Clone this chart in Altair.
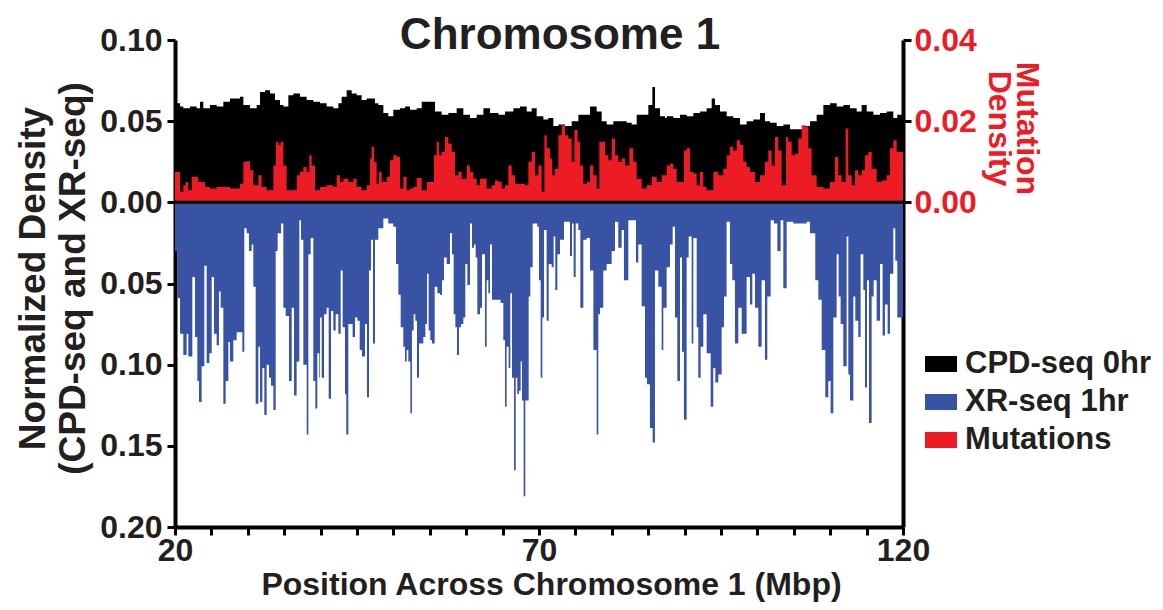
import altair as alt
import pandas as pd

FONT = "Liberation Sans"
TXT = "#231f20"
RED = "#ed1c24"
BLUE = "#3953a4"
BLACK = "#000000"

# ---- CPD-seq 0hr (normalized density, upper half) ----
cpd_pos = [
    20.0, 20.23, 20.69, 21.14, 22.06, 22.98, 23.43, 23.89, 24.81, 25.72,
    26.64, 27.55, 28.47, 28.93, 29.39, 30.30, 31.22, 31.68, 32.36, 33.05,
    33.74, 34.42, 34.88, 35.57, 36.25, 37.17, 38.09, 39.00, 39.92, 40.83,
    41.75, 42.44, 42.89, 43.58, 44.27, 44.95, 45.64, 46.33, 46.79, 47.47,
    47.93, 48.62, 49.30, 49.99, 50.91, 51.59, 52.28, 53.20, 53.89, 54.80,
    55.72, 56.63, 57.55, 58.69, 59.61, 60.52, 61.44, 62.36, 63.27, 64.42,
    65.33, 66.48, 67.39, 68.31, 68.99, 69.68, 70.60, 71.28, 71.97, 72.66,
    73.57, 74.49, 75.41, 76.32, 77.01, 77.92, 78.61, 79.30, 80.21, 81.13,
    82.05, 82.73, 83.42, 84.33, 85.02, 85.57, 85.94, 86.62, 87.31, 87.54,
    88.45, 89.37, 90.28, 91.20, 92.11, 93.03, 93.72, 94.17, 94.86, 95.78,
    96.69, 97.61, 98.52, 99.44, 100.36, 101.04, 101.73, 102.65, 103.56, 104.48,
    105.39, 106.31, 107.22, 108.14, 109.06, 109.97, 110.89, 111.80, 112.72, 113.63,
    114.32, 115.01, 115.93, 116.84, 117.75, 118.67, 119.21, 120.0,
]
cpd_val = [
    0.061, 0.061, 0.059, 0.058, 0.059, 0.058, 0.062, 0.058, 0.060, 0.059,
    0.062, 0.064, 0.064, 0.065, 0.060, 0.058, 0.060, 0.068, 0.069, 0.067,
    0.063, 0.060, 0.059, 0.066, 0.067, 0.065, 0.063, 0.062, 0.061, 0.059,
    0.058, 0.061, 0.065, 0.069, 0.067, 0.066, 0.063, 0.064, 0.064, 0.061,
    0.060, 0.055, 0.053, 0.057, 0.058, 0.059, 0.057, 0.058, 0.062, 0.062,
    0.056, 0.054, 0.055, 0.058, 0.054, 0.052, 0.054, 0.058, 0.055, 0.054,
    0.056, 0.058, 0.059, 0.056, 0.058, 0.053, 0.051, 0.052, 0.047, 0.048,
    0.047, 0.050, 0.054, 0.054, 0.059, 0.056, 0.050, 0.048, 0.050, 0.050,
    0.049, 0.048, 0.054, 0.054, 0.060, 0.071, 0.058, 0.053, 0.052, 0.053,
    0.052, 0.054, 0.053, 0.055, 0.056, 0.058, 0.064, 0.060, 0.056, 0.053,
    0.052, 0.048, 0.050, 0.051, 0.055, 0.050, 0.049, 0.047, 0.048, 0.045,
    0.045, 0.047, 0.050, 0.054, 0.060, 0.061, 0.059, 0.060, 0.058, 0.056,
    0.060, 0.056, 0.054, 0.055, 0.056, 0.052, 0.054, 0.054,
]

# ---- XR-seq 1hr (normalized density, drawn downward) ----
xr_pos = [
    20.0, 20.32, 20.69, 21.14, 21.60, 21.83, 22.38, 22.75, 23.07, 23.30,
    23.66, 24.03, 24.35, 24.72, 25.04, 25.36, 25.72, 26.04, 26.27, 26.64,
    26.96, 27.33, 27.55, 28.01, 28.47, 28.93, 29.25, 29.52, 29.84, 30.16,
    30.53, 30.76, 31.08, 31.45, 31.68, 32.00, 32.27, 32.59, 32.91, 33.19,
    33.51, 33.83, 34.10, 34.56, 34.88, 35.20, 35.66, 36.03, 36.35, 36.71,
    37.08, 37.31, 37.63, 38.09, 38.32, 38.64, 39.00, 39.28, 39.55, 39.82,
    39.92, 40.15, 40.47, 40.83, 41.11, 41.43, 41.75, 42.07, 42.44, 42.76,
    43.03, 43.35, 43.53, 43.81, 44.13, 44.40, 44.73, 45.05, 45.37, 45.69,
    46.10, 46.37, 46.65, 46.92, 47.20, 47.47, 47.93, 48.62, 49.30, 49.99,
    50.36, 50.68, 51.00, 51.36, 51.59, 51.82, 52.05, 52.33, 52.55, 52.78,
    53.01, 53.24, 53.52, 53.84, 54.11, 54.39, 54.62, 54.84, 55.07, 55.30,
    55.67, 56.04, 56.40, 56.68, 56.95, 57.32, 57.77, 58.05, 58.28, 58.51,
    58.74, 59.01, 59.29, 59.61, 59.88, 60.16, 60.52, 60.80, 61.07, 61.30,
    61.53, 61.90, 62.17, 62.58, 62.81, 63.04, 63.27, 63.54, 63.96, 64.41,
    64.73, 65.10, 65.33, 65.55, 65.83, 66.06, 66.29, 66.57, 66.80, 67.02,
    67.25, 67.48, 67.66, 67.89, 68.12, 68.35, 68.58, 68.81, 69.13, 69.50,
    69.77, 70.00, 70.23, 70.46, 70.69, 71.05, 71.33, 71.74, 72.01, 72.24,
    72.52, 72.88, 73.43, 73.89, 74.26, 74.53, 74.76, 75.04, 75.40, 75.68,
    76.09, 76.55, 77.01, 77.47, 77.92, 78.15, 78.38, 78.83, 79.29, 79.98,
    80.44, 80.89, 81.35, 81.67, 82.27, 82.82, 83.32, 83.64, 84.10, 84.56,
    84.83, 85.24, 85.61, 85.93, 86.39, 86.85, 87.08, 87.53, 87.99, 88.36,
    88.68, 89.00, 89.37, 89.64, 89.91, 90.28, 90.56, 90.97, 91.20, 91.66,
    91.88, 92.20, 92.57, 93.03, 93.58, 93.94, 94.22, 94.63, 95.09, 95.41,
    95.77, 96.23, 96.55, 96.92, 97.38, 97.84, 98.52, 98.98, 99.30, 99.67,
    100.13, 100.58, 101.04, 101.36, 101.82, 102.28, 102.74, 103.19, 103.56, 104.02,
    104.93, 105.85, 106.76, 107.22, 107.59, 107.95, 108.37, 108.83, 109.33, 109.74,
    110.06, 110.43, 110.88, 111.16, 111.43, 111.80, 112.26, 112.49, 112.72, 113.18,
    113.45, 113.86, 114.18, 114.55, 114.78, 115.05, 115.33, 115.69, 115.97, 116.38,
    116.84, 117.20, 117.52, 117.89, 118.21, 118.67, 118.94, 119.22, 119.58, 120.0,
]
xr_depth = [
    0.030, 0.059, 0.081, 0.094, 0.081, 0.095, 0.046, 0.083, 0.110, 0.123,
    0.101, 0.039, 0.099, 0.093, 0.046, 0.081, 0.088, 0.055, 0.065, 0.124,
    0.110, 0.086, 0.098, 0.085, 0.080, 0.080, 0.092, 0.016, 0.019, 0.030,
    0.026, 0.052, 0.124, 0.089, 0.123, 0.102, 0.131, 0.100, 0.108, 0.113,
    0.128, 0.030, 0.019, 0.013, 0.065, 0.070, 0.110, 0.065, 0.119, 0.098,
    0.011, 0.023, 0.100, 0.143, 0.032, 0.022, 0.110, 0.127, 0.093, 0.108,
    0.071, 0.108, 0.069, 0.065, 0.121, 0.067, 0.079, 0.069, 0.081, 0.042,
    0.077, 0.118, 0.143, 0.075, 0.075, 0.083, 0.071, 0.073, 0.091, 0.095,
    0.075, 0.120, 0.042, 0.023, 0.087, 0.023, 0.016, 0.010, 0.013, 0.015,
    0.038, 0.057, 0.077, 0.089, 0.098, 0.091, 0.098, 0.130, 0.079, 0.069,
    0.073, 0.108, 0.087, 0.087, 0.083, 0.075, 0.044, 0.079, 0.085, 0.087,
    0.052, 0.056, 0.057, 0.048, 0.034, 0.038, 0.019, 0.032, 0.069, 0.077,
    0.094, 0.077, 0.075, 0.071, 0.038, 0.051, 0.013, 0.028, 0.026, 0.034,
    0.069, 0.065, 0.032, 0.089, 0.048, 0.056, 0.026, 0.060, 0.060, 0.060,
    0.062, 0.085, 0.126, 0.089, 0.102, 0.056, 0.108, 0.165, 0.108, 0.118,
    0.116, 0.098, 0.122, 0.181, 0.122, 0.122, 0.058, 0.040, 0.013, 0.013,
    0.015, 0.048, 0.108, 0.071, 0.017, 0.073, 0.038, 0.040, 0.021, 0.054,
    0.032, 0.023, 0.012, 0.012, 0.033, 0.013, 0.046, 0.013, 0.017, 0.065,
    0.023, 0.022, 0.042, 0.091, 0.143, 0.069, 0.065, 0.042, 0.038, 0.030,
    0.012, 0.028, 0.017, 0.048, 0.011, 0.011, 0.037, 0.026, 0.064, 0.108,
    0.112, 0.139, 0.148, 0.042, 0.052, 0.091, 0.065, 0.040, 0.026, 0.015,
    0.071, 0.110, 0.034, 0.092, 0.134, 0.034, 0.021, 0.087, 0.022, 0.077,
    0.108, 0.089, 0.069, 0.093, 0.126, 0.102, 0.111, 0.106, 0.077, 0.058,
    0.012, 0.038, 0.048, 0.087, 0.065, 0.081, 0.046, 0.063, 0.044, 0.065,
    0.089, 0.048, 0.097, 0.058, 0.011, 0.013, 0.030, 0.011, 0.053, 0.012,
    0.013, 0.013, 0.012, 0.019, 0.019, 0.048, 0.060, 0.091, 0.120, 0.110,
    0.130, 0.071, 0.032, 0.058, 0.075, 0.101, 0.021, 0.106, 0.122, 0.058,
    0.073, 0.083, 0.032, 0.054, 0.114, 0.048, 0.136, 0.058, 0.048, 0.073,
    0.038, 0.082, 0.063, 0.081, 0.044, 0.016, 0.036, 0.071, 0.071, 0.071,
]

# ---- Mutations (mutation density, right axis) ----
mut_pos = [
    20.0, 20.69, 21.14, 21.47, 21.83, 22.29, 22.75, 23.21, 23.66, 24.12,
    24.81, 25.72, 26.64, 27.55, 28.47, 28.93, 29.39, 29.84, 30.30, 30.76,
    31.45, 31.90, 32.59, 33.51, 33.87, 34.19, 34.51, 34.88, 35.34, 36.03,
    36.71, 37.17, 37.63, 38.09, 38.45, 38.77, 39.23, 39.92, 40.83, 41.75,
    42.21, 42.66, 43.12, 43.81, 44.50, 44.95, 45.64, 46.33, 46.79, 47.01,
    47.34, 47.70, 48.02, 48.39, 49.08, 49.53, 49.99, 50.45, 50.91, 51.36,
    51.82, 52.28, 52.74, 53.20, 53.89, 54.57, 55.26, 55.58, 55.95, 56.27,
    56.63, 57.09, 57.55, 58.01, 58.46, 58.92, 59.38, 60.07, 60.52, 60.98,
    61.44, 61.90, 62.36, 62.81, 63.50, 63.96, 64.42, 64.87, 65.33, 65.79,
    66.25, 66.71, 67.39, 68.08, 68.54, 69.00, 69.45, 69.91, 70.37, 70.74,
    71.06, 71.51, 71.83, 72.20, 72.66, 73.12, 73.57, 74.03, 74.49, 74.86,
    75.31, 75.63, 76.09, 76.55, 77.01, 77.47, 77.92, 78.29, 78.70, 79.07,
    79.53, 79.98, 80.44, 80.90, 81.36, 81.82, 82.41, 82.96, 83.42, 84.11,
    84.79, 85.48, 86.17, 86.85, 87.54, 87.99, 88.45, 88.91, 89.37, 89.92,
    90.28, 90.74, 91.20, 91.66, 92.11, 92.57, 93.03, 93.95, 94.63, 95.32,
    95.78, 96.24, 96.69, 97.15, 97.61, 98.07, 98.52, 98.98, 99.67, 100.36,
    101.04, 101.50, 101.96, 102.42, 102.87, 103.33, 103.93, 104.25, 104.71, 105.16,
    105.62, 106.08, 106.54, 107.00, 107.45, 108.14, 109.06, 109.97, 110.66, 111.12,
    111.57, 112.12, 112.49, 112.95, 113.41, 113.86, 114.32, 114.78, 115.24, 115.70,
    116.38, 117.07, 117.75, 118.21, 118.67, 119.13, 120.0,
]
mut_val = [
    0.0075, 0.0026, 0.0042, 0.0050, 0.0030, 0.0063, 0.0063, 0.0050, 0.0050, 0.0038,
    0.0034, 0.0038, 0.0038, 0.0034, 0.0034, 0.0046, 0.0100, 0.0101, 0.0079, 0.0042,
    0.0067, 0.0038, 0.0030, 0.0091, 0.0149, 0.0141, 0.0149, 0.0091, 0.0030, 0.0030,
    0.0067, 0.0075, 0.0087, 0.0075, 0.0116, 0.0091, 0.0030, 0.0038, 0.0042, 0.0038,
    0.0067, 0.0050, 0.0058, 0.0050, 0.0058, 0.0038, 0.0030, 0.0042, 0.0108, 0.0137,
    0.0100, 0.0046, 0.0075, 0.0050, 0.0063, 0.0104, 0.0116, 0.0112, 0.0034, 0.0063,
    0.0030, 0.0034, 0.0038, 0.0060, 0.0030, 0.0050, 0.0050, 0.0116, 0.0149, 0.0116,
    0.0124, 0.0161, 0.0145, 0.0124, 0.0067, 0.0075, 0.0058, 0.0091, 0.0075, 0.0058,
    0.0042, 0.0058, 0.0058, 0.0034, 0.0042, 0.0054, 0.0050, 0.0034, 0.0042, 0.0091,
    0.0067, 0.0046, 0.0046, 0.0042, 0.0100, 0.0124, 0.0067, 0.0091, 0.0026, 0.0165,
    0.0133, 0.0108, 0.0067, 0.0083, 0.0165, 0.0190, 0.0165, 0.0157, 0.0100, 0.0178,
    0.0149, 0.0091, 0.0046, 0.0050, 0.0091, 0.0067, 0.0034, 0.0149, 0.0149, 0.0116,
    0.0104, 0.0157, 0.0116, 0.0100, 0.0108, 0.0091, 0.0133, 0.0100, 0.0058, 0.0034,
    0.0042, 0.0063, 0.0050, 0.0067, 0.0091, 0.0095, 0.0083, 0.0050, 0.0050, 0.0128,
    0.0133, 0.0075, 0.0071, 0.0042, 0.0075, 0.0038, 0.0030, 0.0075, 0.0067, 0.0083,
    0.0116, 0.0137, 0.0128, 0.0153, 0.0141, 0.0100, 0.0087, 0.0075, 0.0050, 0.0067,
    0.0100, 0.0128, 0.0091, 0.0161, 0.0128, 0.0042, 0.0161, 0.0149, 0.0116, 0.0120,
    0.0157, 0.0190, 0.0186, 0.0133, 0.0067, 0.0038, 0.0034, 0.0050, 0.0112, 0.0067,
    0.0050, 0.0182, 0.0067, 0.0042, 0.0079, 0.0067, 0.0079, 0.0116, 0.0124, 0.0083,
    0.0050, 0.0054, 0.0067, 0.0133, 0.0153, 0.0124, 0.0100,
]

series_names = ["CPD-seq 0hr", "XR-seq 1hr", "Mutations"]
series_colors = [BLACK, BLUE, RED]

left_ticks = [-0.20, -0.15, -0.10, -0.05, 0.0, 0.05, 0.10]
right_ticks = [0.0, 0.02, 0.04]
x_ticks = list(range(20, 121, 5))

cpd_df = pd.DataFrame({"pos": cpd_pos, "value": cpd_val, "series": series_names[0]})
xr_df = pd.DataFrame({"pos": xr_pos, "depth": xr_depth, "series": series_names[1]})
mut_df = pd.DataFrame({"pos": mut_pos, "value": mut_val, "series": series_names[2]})
zero_df = pd.DataFrame({"value": [0.0]})

x_enc = alt.X(
    "pos:Q",
    scale=alt.Scale(domain=[20, 120], nice=False, zero=False),
    axis=alt.Axis(
        values=x_ticks,
        format="d",
        labelExpr="(datum.value - 20) % 50 == 0 ? datum.label : ''",
        labelFlush=False,
        labelOverlap=False,
        labelPadding=0,
        title="Position Across Chromosome 1 (Mbp)",
        titleX=376,
        titleY=67,
        titleAlign="center",
        titleBaseline="alphabetic",
        titleFontSize=32,
    ),
)

left_y = alt.Y(
    "value:Q",
    scale=alt.Scale(domain=[-0.20, 0.10], nice=False, zero=False),
    stack=False,
    axis=alt.Axis(
        orient="left",
        values=left_ticks,
        labelExpr="format(abs(datum.value), '.2f')",
        labelFlush=False,
        labelOverlap=False,
        labelPadding=5,
        title=["Normalized Density", "(CPD-seq and XR-seq)"],
        titleAngle=270,
        titleX=-142,
        titleY=238,
        titleAlign="center",
        titleBaseline="middle",
        titleFontSize=37,
        titleLineHeight=40,
    ),
)

right_y = alt.Y(
    "value:Q",
    scale=alt.Scale(domain=[-0.08, 0.04], nice=False, zero=False),
    stack=False,
    axis=alt.Axis(
        orient="right",
        values=right_ticks,
        format=".2f",
        labelColor=RED,
        labelFlush=False,
        labelOverlap=False,
        labelPadding=3,
        title=["Mutation", "Density"],
        titleColor=RED,
        titleAngle=90,
        titleX=123,
        titleY=88,
        titleAlign="center",
        titleBaseline="middle",
        titleFontSize=32,
        titleLineHeight=28,
    ),
)

color_enc = alt.Color(
    "series:N",
    scale=alt.Scale(domain=series_names, range=series_colors),
    legend=alt.Legend(
        title=None,
        orient="none",
        legendX=750,
        legendY=308,
        symbolType="M-1,-0.5L1,-0.5L1,0.5L-1,0.5Z",
        symbolSize=1024,
        symbolStrokeWidth=0,
        symbolOpacity=1,
        labelFont=FONT,
        labelFontSize=31,
        labelFontWeight="bold",
        labelColor=TXT,
        labelLimit=400,
        labelOffset=8,
        rowPadding=7,
        padding=0,
    ),
)

cpd_layer = alt.Chart(cpd_df).mark_area(interpolate="step-after").encode(
    x=x_enc, y=left_y, color=color_enc
)
xr_layer = (
    alt.Chart(xr_df)
    .transform_calculate(value="-datum.depth")
    .mark_area(interpolate="step-after")
    .encode(x=x_enc, y=left_y, color=color_enc)
)
left_group = alt.layer(cpd_layer, xr_layer)

mut_layer = alt.Chart(mut_df).mark_area(interpolate="step-after").encode(
    x=x_enc, y=right_y, color=color_enc
)
zero_rule = alt.Chart(zero_df).mark_rule(color=BLACK, strokeWidth=3).encode(y=right_y)
right_group = alt.layer(mut_layer, zero_rule)

chart = (
    alt.layer(left_group, right_group)
    .resolve_scale(y="independent")
    .properties(
        width=728,
        height=487,
        autosize=alt.AutoSizeParams(type="none"),
        padding={"left": 167, "top": 32, "right": 252, "bottom": 75},
        title=alt.TitleParams(
            "Chromosome 1",
            font=FONT,
            fontSize=44,
            fontWeight="bold",
            color=TXT,
            anchor="middle",
            offset=0,
            dx=21,
            dy=69,
            baseline="alphabetic",
        ),
    )
    .configure_view(stroke="transparent")
    .configure_axis(
        grid=False,
        domainColor=BLACK,
        domainWidth=4,
        tickColor=BLACK,
        tickWidth=3,
        tickSize=8,
        labelFont=FONT,
        labelFontSize=32,
        labelFontWeight="bold",
        labelColor=TXT,
        titleFont=FONT,
        titleFontWeight="bold",
        titleColor=TXT,
    )
)

chart.save("out.html", embed_options={"renderer": "svg", "actions": False})
